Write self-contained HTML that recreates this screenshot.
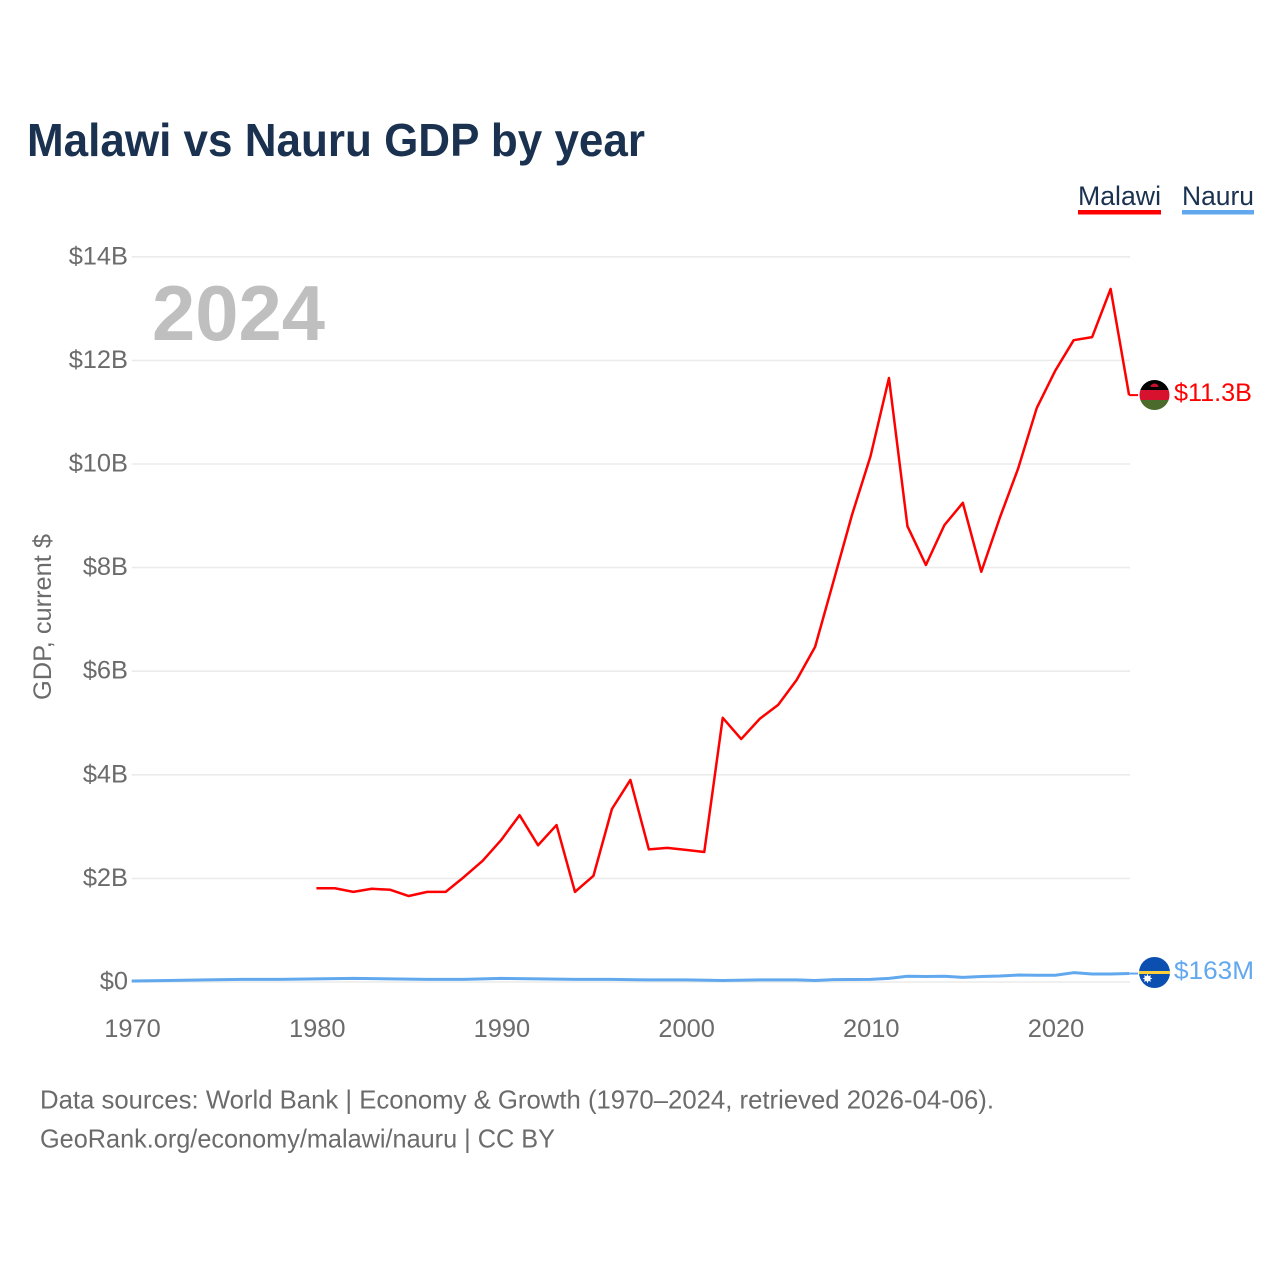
<!DOCTYPE html>
<html lang="en">
<head>
<meta charset="utf-8">
<title>Malawi vs Nauru GDP by year</title>
<style>
html,body{margin:0;padding:0;background:#fff;}
svg{display:block;font-family:"Liberation Sans",sans-serif;}
</style>
</head>
<body>
<svg id="chart" xmlns="http://www.w3.org/2000/svg" width="1280" height="1280" viewBox="0 0 1280 1280">
  <defs>
    <clipPath id="flag-clip-malawi"><circle cx="1154.5" cy="395" r="15"></circle></clipPath>
    <clipPath id="flag-clip-nauru"><circle cx="1154.5" cy="972.5" r="15.5"></circle></clipPath>
  </defs>
  <rect x="0" y="0" width="1280" height="1280" fill="#ffffff"></rect>
  <text x="27" y="156" font-size="46" font-weight="700" fill="#1a3150" textLength="618" lengthAdjust="spacingAndGlyphs">Malawi vs Nauru GDP by year</text>

  <g id="grid"></g>
  <g id="y-ticks"></g>
  <g id="x-ticks"></g>

  <text transform="translate(51 617) rotate(-90)" text-anchor="middle" font-size="25" fill="#6b6b6b" textLength="166" lengthAdjust="spacingAndGlyphs">GDP, current $</text>
  <text x="152" y="340" font-size="78" font-weight="700" fill="#bfbfbf" textLength="173" lengthAdjust="spacingAndGlyphs">2024</text>

  <path id="line-nauru" fill="none" stroke="#62a8ee" stroke-width="3" stroke-linejoin="round"></path>
  <path id="line-malawi" fill="none" stroke="#ff0000" stroke-width="2.5" stroke-linejoin="round"></path>
  <path id="connector-malawi" fill="none" stroke="#ff0000" stroke-width="2"></path>
  <path id="connector-nauru" fill="none" stroke="#62a8ee" stroke-width="2"></path>

  <g clip-path="url(#flag-clip-malawi)">
    <rect x="1139" y="380" width="31" height="10" fill="#000000"></rect>
    <rect x="1139" y="390" width="31" height="10" fill="#d6122f"></rect>
    <rect x="1139" y="400" width="31" height="10" fill="#4a6b2c"></rect>
    <path d="M1150.5 387 a4 3.5 0 0 1 8 0 z" fill="#c8102e"></path>
  </g>
  <g clip-path="url(#flag-clip-nauru)">
    <rect x="1138" y="956" width="33" height="33" fill="#0b4fb0"></rect>
    <rect x="1138" y="971" width="33" height="3" fill="#ffcf3a"></rect>
    <path d="M1147.5 973.8 L1148.6 976.2 L1150.9 975.1 L1150.2 977.5 L1152.4 978.5 L1150.2 979.5 L1150.9 981.9 L1148.6 980.8 L1147.5 983.2 L1146.4 980.8 L1144.1 981.9 L1144.8 979.5 L1142.6 978.5 L1144.8 977.5 L1144.1 975.1 L1146.4 976.2 Z" fill="#ffffff"></path>
  </g>

  <text x="1174" y="401" font-size="25" fill="#ff0000" textLength="78" lengthAdjust="spacingAndGlyphs">$11.3B</text>
  <text x="1174" y="979" font-size="25" fill="#62a8ee" textLength="80" lengthAdjust="spacingAndGlyphs">$163M</text>

  <g>
    <text x="1078" y="205" font-size="27" fill="#1a3150" textLength="83" lengthAdjust="spacingAndGlyphs">Malawi</text>
    <rect x="1078" y="210" width="83" height="4.5" fill="#ff0000"></rect>
    <text x="1182" y="205" font-size="27" fill="#1a3150" textLength="72" lengthAdjust="spacingAndGlyphs">Nauru</text>
    <rect x="1182" y="210" width="72" height="4.5" fill="#62a8ee"></rect>
  </g>

  <text x="40" y="1108.5" font-size="26" fill="#6b6b6b" textLength="954" lengthAdjust="spacingAndGlyphs">Data sources: World Bank | Economy &amp; Growth (1970–2024, retrieved 2026-04-06).</text>
  <text x="40" y="1147.5" font-size="26" fill="#6b6b6b" textLength="515" lengthAdjust="spacingAndGlyphs">GeoRank.org/economy/malawi/nauru | CC BY</text>
</svg>
<script>
var yTickValues = [0, 2, 4, 6, 8, 10, 12, 14];
var yTickLabels = ["$0", "$2B", "$4B", "$6B", "$8B", "$10B", "$12B", "$14B"];
var xTickValues = [1970, 1980, 1990, 2000, 2010, 2020];
var malawiYears = [1980,1981,1982,1983,1984,1985,1986,1987,1988,1989,1990,1991,1992,1993,1994,1995,1996,1997,1998,1999,2000,2001,2002,2003,2004,2005,2006,2007,2008,2009,2010,2011,2012,2013,2014,2015,2016,2017,2018,2019,2020,2021,2022,2023,2024];
var malawiGdp = [1.81,1.81,1.74,1.80,1.78,1.66,1.74,1.74,2.03,2.34,2.74,3.22,2.64,3.03,1.74,2.05,3.34,3.90,2.56,2.59,2.55,2.51,5.10,4.69,5.08,5.35,5.83,6.47,7.74,9.02,10.15,11.66,8.80,8.05,8.82,9.25,7.92,8.96,9.92,11.08,11.80,12.39,12.45,13.38,11.33];
var nauruYears = [1970,1972,1974,1976,1978,1980,1982,1984,1986,1988,1990,1992,1994,1996,1998,2000,2002,2004,2006,2007,2008,2010,2011,2012,2013,2014,2015,2016,2017,2018,2019,2020,2021,2022,2023,2024];
var nauruGdp = [0.02,0.03,0.04,0.05,0.05,0.06,0.07,0.06,0.05,0.05,0.07,0.06,0.05,0.05,0.04,0.04,0.03,0.04,0.04,0.03,0.045,0.05,0.07,0.11,0.105,0.11,0.09,0.105,0.115,0.135,0.13,0.13,0.18,0.155,0.155,0.163];

function xScale(year) { return 131.7 + (year - 1970) * 18.47; }
function yScale(value) { return 982 - value * 51.8; }

var NS = "http://www.w3.org/2000/svg";
var gridGroup = document.getElementById("grid");
var yTickGroup = document.getElementById("y-ticks");
var xTickGroup = document.getElementById("x-ticks");

yTickValues.forEach(function (v, i) {
  var line = document.createElementNS(NS, "line");
  
  
  line.setAttribute("x1", xScale(1970));
  line.setAttribute("x2", xScale(2024) + 1);
  line.setAttribute("y1", yScale(v));
  line.setAttribute("y2", yScale(v));
  line.setAttribute("stroke", "#ebebeb");
  line.setAttribute("stroke-width", "1.6");
  gridGroup.appendChild(line);

  var label = document.createElementNS(NS, "text");
  
  
  label.setAttribute("x", 128);
  label.setAttribute("y", yScale(v) + 7.5);
  label.setAttribute("text-anchor", "end");
  label.setAttribute("font-size", "25.4");
  label.setAttribute("fill", "#6b6b6b");
  label.textContent = yTickLabels[i];
  yTickGroup.appendChild(label);
});

xTickValues.forEach(function (year) {
  var label = document.createElementNS(NS, "text");
  
  
  label.setAttribute("x", xScale(year) + 0.8);
  label.setAttribute("y", 1037);
  label.setAttribute("text-anchor", "middle");
  label.setAttribute("font-size", "25.4");
  label.setAttribute("fill", "#6b6b6b");
  label.textContent = String(year);
  xTickGroup.appendChild(label);
});

function linePath(years, values) {
  return years.map(function (year, i) {
    return (i ? "L" : "M") + xScale(year).toFixed(2) + " " + yScale(values[i]).toFixed(2);
  }).join(" ");
}

function connectorPath(years, values) {
  var last = years.length - 1;
  var x = xScale(years[last]);
  var y = yScale(values[last]);
  return "M" + x.toFixed(2) + " " + y.toFixed(2) + " L" + (x + 9).toFixed(2) + " " + y.toFixed(2);
}

document.getElementById("line-malawi").setAttribute("d", linePath(malawiYears, malawiGdp));
document.getElementById("line-nauru").setAttribute("d", linePath(nauruYears, nauruGdp));
document.getElementById("connector-malawi").setAttribute("d", connectorPath(malawiYears, malawiGdp));
document.getElementById("connector-nauru").setAttribute("d", connectorPath(nauruYears, nauruGdp));
</script>
</body>
</html>
